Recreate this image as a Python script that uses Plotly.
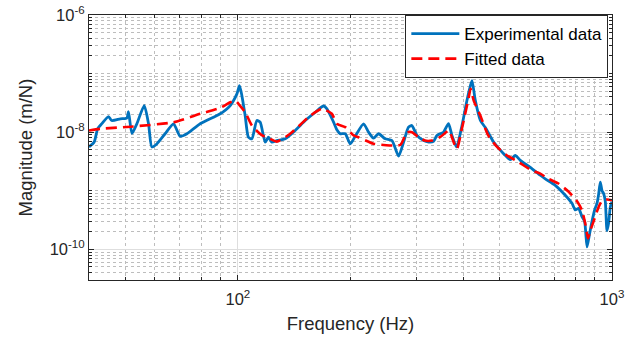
import plotly.graph_objects as go

# Measured frequency response (Hz, m/N)
exp_freq = [40.0, 41.3, 42.2, 43.3, 45.1, 46.0, 48.5, 50.5, 51.0, 52.1, 53.7, 56.2,
            57.7, 58.9, 60.7, 63.9, 67.3, 70.1, 73.1, 79.3, 86.1, 89.7, 95.4, 99.4,
            101.0, 102.5, 104.6, 106.7, 109.0, 112.4, 114.7, 118.3, 120.7, 123.3,
            127.1, 133.8, 142.3, 151.4, 161.0, 169.4, 173.0, 180.1, 183.9, 187.7,
            193.6, 199.7, 205.9, 216.7, 223.5, 230.5, 237.7, 247.7, 258.1, 268.9,
            277.3, 285.8, 291.9, 296.0, 301.1, 313.6, 323.4, 333.4, 340.4, 354.5,
            365.6, 373.4, 384.1, 397.2, 409.6, 416.3, 422.5, 431.1, 444.6, 458.5,
            482.5, 513.2, 534.8, 551.5, 568.7, 604.7, 643.1, 663.2, 705.3, 750.1,
            781.7, 797.9, 814.2, 831.5, 844.8, 857.5, 869.7, 884.3, 898.6, 911.9,
            921.0, 930.6, 940.4, 949.6, 959.6, 969.6, 979.2, 989.7, 1000.0]
exp_mag = [5.6e-9, 6.8e-9, 1.15e-8, 1.4e-8, 1.85e-8, 1.58e-8, 1.69e-8, 1.75e-8, 2.25e-8,
           9.5e-9, 1.39e-8, 2.85e-8, 1.39e-8, 5.6e-9, 6.3e-9, 9.4e-9, 1.39e-8, 8.5e-9,
           9.4e-9, 1.39e-8, 1.8e-8, 2.06e-8, 2.85e-8, 4.5e-8, 6.2e-8, 4.2e-8, 1.9e-8,
           8.2e-9, 7.7e-9, 1.58e-8, 1.48e-8, 6.76e-9, 8.2e-9, 6.76e-9, 7.2e-9, 7.7e-9,
           1.07e-8, 1.58e-8, 2.19e-8, 2.8e-8, 2.5e-8, 1.5e-8, 1.1e-8, 9.4e-9, 9.4e-9,
           6.3e-9, 8.5e-9, 1.39e-8, 1.0e-8, 7.9e-9, 9.4e-9, 7.7e-9, 7.2e-9, 3.9e-9,
           6.76e-9, 1.22e-8, 1.3e-8, 1.1e-8, 8.8e-9, 7.2e-9, 6.8e-9, 7.0e-9, 8.8e-9,
           1.0e-8, 1.4e-8, 8.8e-9, 5.6e-9, 1.3e-8, 3.5e-8, 5.5e-8, 7.6e-8, 3.5e-8,
           1.6e-8, 1.2e-8, 6.8e-9, 4.3e-9, 3.4e-9, 4.0e-9, 3.3e-9, 2.5e-9, 1.84e-9,
           1.6e-9, 1.24e-9, 8.4e-10, 6.1e-10, 4.7e-10, 5.0e-10, 3.6e-10, 3.0e-10,
           1.1e-10, 1.75e-10, 3.0e-10, 4.7e-10, 6.1e-10, 8.7e-10, 1.4e-9, 1.0e-9,
           9.0e-10, 6.6e-10, 2.1e-10, 2.8e-10, 5.3e-10, 6.5e-10]

# Identified model response
fit_freq = [40.0, 42.8, 52.4, 67.3, 79.3, 89.7, 95.4, 98.5, 101.0, 104.6, 109.0, 116.1,
            122.0, 127.1, 138.0, 154.5, 167.6, 178.3, 183.9, 193.6, 203.9, 210.0, 230.5,
            254.5, 272.0, 283.0, 291.9, 304.0, 316.0, 330.0, 347.0, 366.0, 369.0, 384.7,
            397.0, 414.0, 418.8, 426.9, 444.6, 467.0, 493.0, 524.0, 562.0, 610.0, 643.0,
            676.0, 719.0, 766.0, 808.0, 831.0, 848.0, 863.0, 873.0, 892.0, 921.0, 940.0,
            970.0, 1000.0]
fit_mag = [1.07e-8, 1.14e-8, 1.25e-8, 1.48e-8, 2.06e-8, 2.6e-8, 3.24e-8, 3.46e-8, 2.9e-8,
           2.19e-8, 1.3e-8, 8.8e-9, 7.7e-9, 6.9e-9, 9.4e-9, 1.8e-8, 2.5e-8, 2.06e-8,
           1.39e-8, 1.22e-8, 8.8e-9, 8.2e-9, 6.35e-9, 5.94e-9, 6.1e-9, 9.9e-9, 1.0e-8,
           8.2e-9, 7.2e-9, 7.2e-9, 8.2e-9, 1.07e-8, 1.0e-8, 5.2e-9, 1.15e-8, 3.9e-8,
           5.5e-8, 3.46e-8, 1.92e-8, 8.8e-9, 5.6e-9, 4.0e-9, 3.1e-9, 2.23e-9, 1.96e-9,
           1.6e-9, 1.33e-9, 9.6e-10, 6.5e-10, 4.66e-10, 2.77e-10, 1.54e-10, 2.0e-10,
           2.95e-10, 5.3e-10, 6.7e-10, 7.1e-10, 6.9e-10]

x_major = [100, 1000]
x_major_text = ["10<sup>2</sup>", "10<sup>3</sup>"]
y_major = [1e-10, 1e-8, 1e-6]
y_major_text = ["10<sup>-10</sup>", "10<sup>-8</sup>", "10<sup>-6</sup>"]

x_minor = [m * 10 for m in range(5, 10)] + [m * 100 for m in range(2, 10)]
y_minor = []
for e in (-11, -10, -9, -8, -7):
    for m in range(1, 10):
        v = m * 10.0 ** e
        if v >= 3e-11 and v < 1e-6 and not (m == 1 and e in (-10, -8)):
            y_minor.append(v)

FONT = "Liberation Sans, Arial, sans-serif"
AX = "#262626"

fig = go.Figure()
fig.add_trace(go.Scatter(x=exp_freq, y=exp_mag, mode="lines", name="Experimental data",
                         line=dict(color="#0072BD", width=2.8, shape="spline", smoothing=0.6)))
fig.add_trace(go.Scatter(x=fit_freq, y=fit_mag, mode="lines", name="Fitted data",
                         line=dict(color="#FF0000", width=2.6, dash="11px,6px",
                                   shape="spline", smoothing=0.6)))

axis_common = dict(
    type="log", showline=True, linecolor=AX, linewidth=1, mirror="ticks",
    ticks="inside", ticklen=5, tickcolor=AX, tickwidth=1, automargin=False,
    showgrid=True, gridcolor="#DEDEDE", gridwidth=1,
    tickfont=dict(family=FONT, size=16.5, color=AX), zeroline=False,
)

fig.update_xaxes(
    **axis_common, range=[1.60206, 3.0], tickmode="array",
    tickvals=x_major, ticktext=x_major_text, ticklabelstandoff=4,
    minor=dict(tickmode="array", tickvals=x_minor, ticks="inside", ticklen=3,
               tickcolor=AX, showgrid=True, gridcolor="#BDBDBD", griddash="dot", gridwidth=1),
    title=dict(text="Frequency (Hz)", font=dict(family=FONT, size=18.5, color=AX), standoff=10),
)
fig.update_yaxes(
    **axis_common, range=[-10.523, -6.0], tickmode="array",
    tickvals=y_major, ticktext=y_major_text,
    minor=dict(tickmode="array", tickvals=y_minor, ticks="inside", ticklen=3,
               tickcolor=AX, showgrid=True, gridcolor="#BDBDBD", griddash="dot", gridwidth=1),
    title=dict(text="Magnitude (m/N)", font=dict(family=FONT, size=18.5, color=AX), standoff=12),
)

fig.update_layout(
    width=637, height=337,
    margin=dict(l=89, r=25, t=15, b=57),
    paper_bgcolor="white", plot_bgcolor="white",
    font=dict(family=FONT, size=16, color=AX),
    showlegend=True,
    legend=dict(x=0.993, xanchor="right", y=1.0, yanchor="top",
                bgcolor="white", bordercolor=AX, borderwidth=1,
                font=dict(family=FONT, size=17, color="#000000"),
                itemwidth=48, tracegroupgap=0),
)

fig.write_html("out.html")
